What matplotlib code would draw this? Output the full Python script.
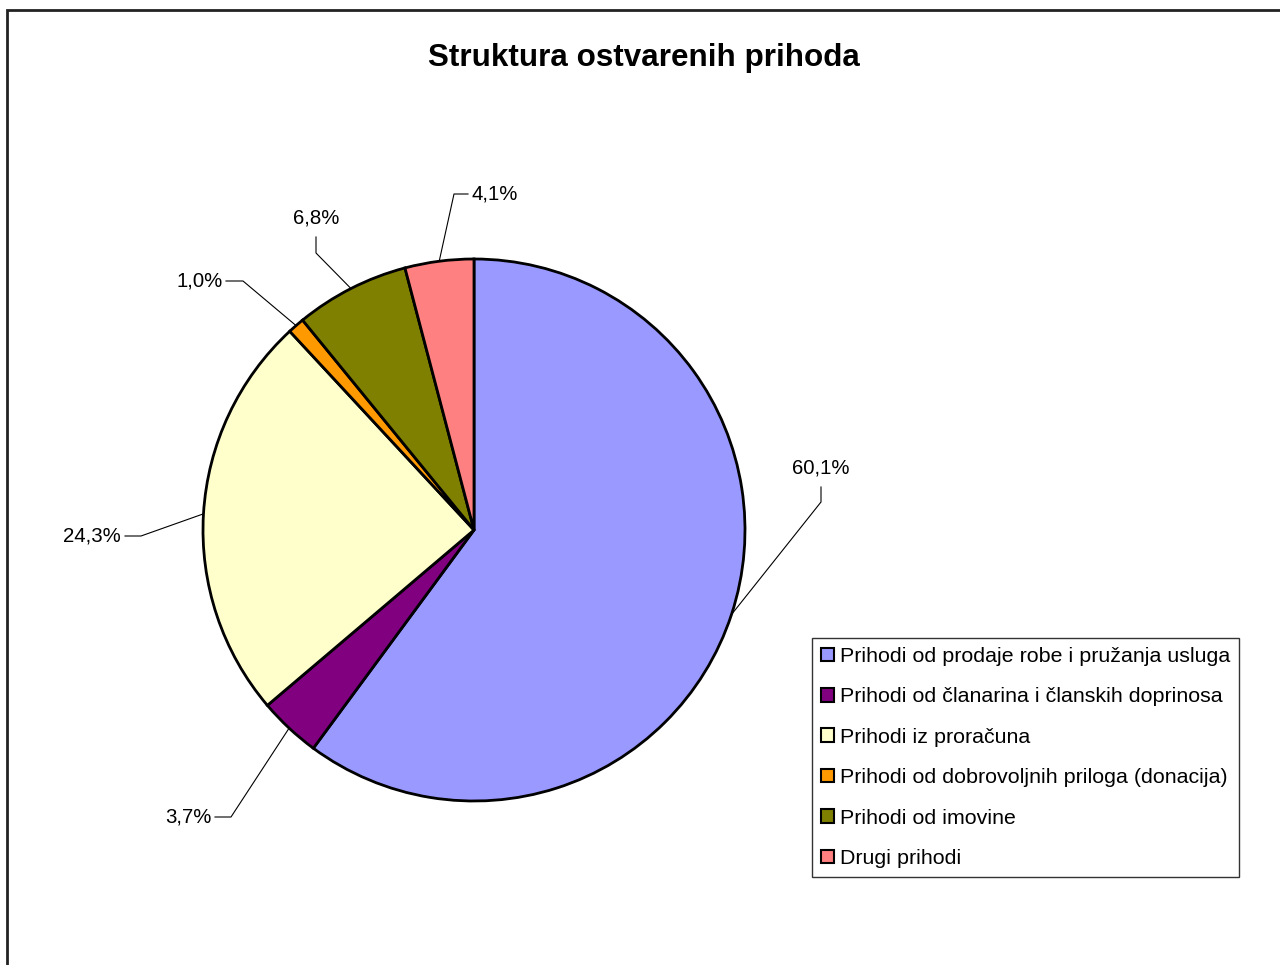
import matplotlib
matplotlib.use('Agg')
import matplotlib.pyplot as plt
from matplotlib.patches import Patch, Rectangle
import numpy as np

plt.rcParams['font.family'] = ['Liberation Sans', 'DejaVu Sans']

# data
categories = ['Prihodi od prodaje robe i pružanja usluga',
              'Prihodi od članarina i članskih doprinosa',
              'Prihodi iz proračuna',
              'Prihodi od dobrovoljnih priloga (donacija)',
              'Prihodi od imovine',
              'Drugi prihodi']
shares = [60.1, 3.7, 24.3, 1.0, 6.8, 4.1]
pct_labels = ['60,1%', '3,7%', '24,3%', '1,0%', '6,8%', '4,1%']
colors = ['#9999FF', '#800080', '#FFFFCC', '#FF9900', '#808000', '#FF8080']

# label layout in screen pixels: elbow of leader, end of leader, text anchor, alignment
elbows = [(821, 502), (231, 817), (141, 536), (243, 281), (316, 253), (454, 194)]
ends = [(821, 487), (215, 817), (125, 536), (226, 281), (316, 237), (468, 194)]
text_pos = [(821, 468), (212, 817), (121, 536), (223, 281), (316, 218), (472, 194)]
text_ha = ['center', 'right', 'right', 'right', 'center', 'left']

W, H = 1280, 965
fig = plt.figure(figsize=(W / 100, H / 100), dpi=100)
ax = fig.add_axes([0, 0, 1, 1])

cx, cy, r = 474, 530, 271
# y gets inverted below -> pixel coords; counterclock in data == clockwise on screen, -90 == top
wedges, _ = ax.pie(shares, colors=colors, startangle=-90, counterclock=True,
                   center=(cx, cy), radius=r, frame=True,
                   wedgeprops=dict(edgecolor='black', linewidth=2))
ax.set_xlim(0, W)
ax.set_ylim(H, 0)
ax.set_aspect('equal')
ax.axis('off')

for w, el, en, tp, ha, lab in zip(wedges, elbows, ends, text_pos, text_ha, pct_labels):
    th = np.deg2rad((w.theta1 + w.theta2) / 2)
    px, py = cx + r * np.cos(th), cy + r * np.sin(th)
    ax.plot([px, el[0], en[0]], [py, el[1], en[1]], color='black', lw=0.8)
    ax.text(tp[0], tp[1], lab, ha=ha, va='center', fontsize=14.7)

ax.text(644, 58, 'Struktura ostvarenih prihoda', ha='center', va='center',
        fontsize=22.6, fontweight='bold')

handles = [Patch(facecolor=c, edgecolor='black', linewidth=1.5) for c in colors]
leg = fig.legend(handles, categories, loc='upper left',
                 bbox_to_anchor=(812 / W, 1 - 638 / H), bbox_transform=fig.transFigure,
                 fontsize=15.4, frameon=True, fancybox=False, edgecolor='black',
                 handlelength=0.6, handleheight=0.6, handletextpad=0.3,
                 labelspacing=1.0, borderpad=0.42, borderaxespad=0)
leg.get_frame().set_linewidth(1.0)

# outer chart border
fig.patches.append(Rectangle((7 / W, -0.1), 1.2, 1 - 10 / H + 0.1,
                             transform=fig.transFigure, fill=False,
                             edgecolor='#222222', linewidth=2))

fig.savefig('out.png', dpi=100, facecolor='white')
